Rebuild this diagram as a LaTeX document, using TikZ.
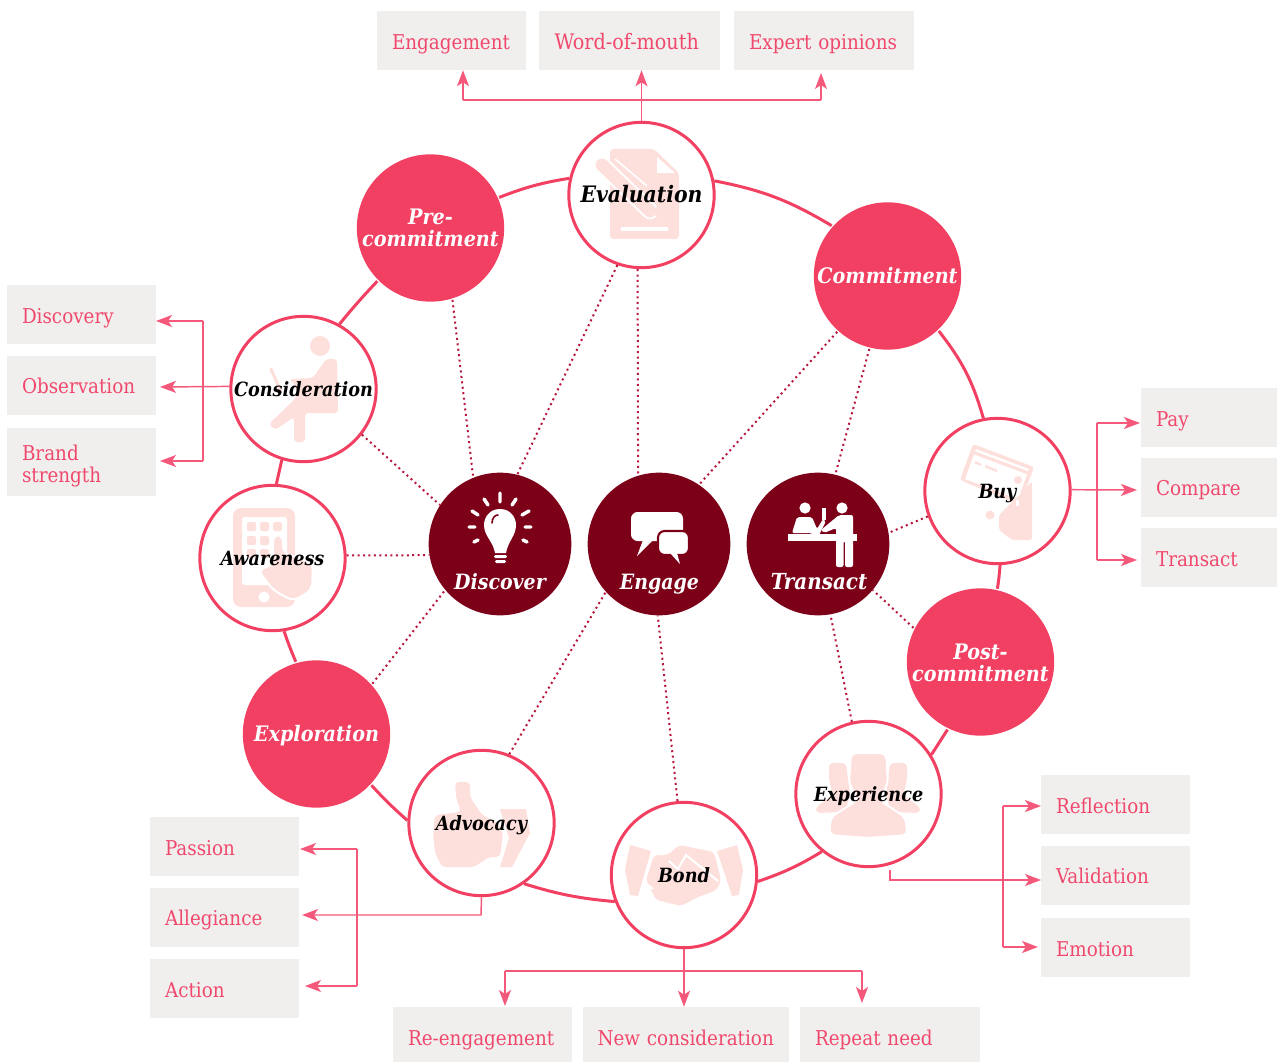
\documentclass[tikz,border=0pt]{standalone}
\usepackage{fontspec}
\setmainfont{DejaVu Serif Condensed}
\usepackage{xcolor}
\usetikzlibrary{positioning,arrows.meta}
\definecolor{ringred}{HTML}{F24062}
\definecolor{forkred}{HTML}{F4587A}
\definecolor{tagred}{HTML}{F0486C}
\definecolor{corered}{HTML}{7D0019}
\definecolor{dotred}{HTML}{B8163C}
\definecolor{tagbg}{HTML}{F1EFEE}
\definecolor{iconpink}{HTML}{FDDFDC}

\begin{document}
\begin{tikzpicture}[x=0.75pt,y=-0.75pt]
    \tikzstyle{stage} = [draw=ringred,line width=2.25pt,circle,fill=none,minimum size=109pt,inner sep=0pt,text=black,font=\fontsize{14.7}{16.5}\selectfont\bfseries\itshape,align=center,text height=11.5pt,text depth=0pt]
    \tikzstyle{stagefull} = [stage,draw=none,fill=ringred,minimum size=110.5pt,text=white,font=\fontsize{16}{16.5}\selectfont\bfseries\itshape]
    \tikzstyle{twolines} = [text height=28.5pt,text depth=0pt]
    \tikzstyle{core} = [circle,fill=corered,minimum size=107pt,inner sep=0pt]
    \tikzstyle{corelabel} = [text=white,inner sep=0pt,anchor=base,font=\fontsize{15.8}{16.5}\selectfont\bfseries\itshape]
    \tikzstyle{tag} = [fill=tagbg,text=tagred,align=left,minimum height=44.25pt,inner xsep=11.25pt,inner ysep=0pt,font=\fontsize{15.3}{16.5}\selectfont,text height=13pt,text depth=0pt]
    \tikzstyle{lowtag} = [tag,minimum height=41.25pt,text height=15.75pt]
    \tikzstyle{ringline} = [draw=ringred,line width=2.25pt]
    \tikzstyle{dotline} = [draw=dotred,line width=1.5pt,dotted,dash pattern=on 1.5pt off 2.6pt]
    \tikzstyle{forkline} = [draw=forkred,line width=1.1pt]
    \tikzstyle{forkarrow} = [forkline,-{Stealth[length=12pt,width=9pt,inset=3pt]}]
    \tikzstyle{icon} = [fill=iconpink,draw=none]
    \tikzstyle{iconcut} = [fill=white,draw=none]

    \useasboundingbox (0,0) rectangle (1277,1062);

    % the three dark circles come first, their pictures go on top
    \node[core] (discover) at (500,544) {};
    \node[core] (engage) at (659,544) {};
    \node[core] (transact) at (818,544) {};

    % bulb
    \fill[white] (500,509) .. controls (489,509) and (484,518) .. (484,525) .. controls (484,536) and (493,541) .. (495,553) -- (506,553) .. controls (508,541) and (516,536) .. (516,525) .. controls (516,518) and (511,509) .. (500,509) -- cycle;
    \draw[corered,line width=1.2pt,line cap=round] (492,523) .. controls (492,518) and (495,515) .. (498,515);
    \fill[white,rounded corners=1pt] (494,555) rectangle (507,558);
    \fill[white,rounded corners=1pt] (495,560) rectangle (506,563);
    \draw[white,line width=2.6pt,line cap=round] (500,493) -- (500,502) (484,499) -- (488,505) (516,499) -- (512,505) (472,511) -- (478,515) (529,511) -- (522,515) (469,527) -- (475,527) (531,527) -- (525,527) (474,542) -- (478,540) (527,542) -- (523,540);
    % bubbles
    \fill[white,rounded corners=5pt] (631,512) rectangle (683,541);
    \fill[white] (643,540) -- (637,556) -- (653,540) -- cycle;
    \fill[white,rounded corners=5pt,draw=corered,line width=1.6pt] (658,531) rectangle (689,555);
    \fill[white] (670,553) -- (680,564) -- (677,553) -- cycle;
    % counter
    \fill[white] (805,508) circle (5.6);
    \fill[white,rounded corners=1.5pt] (792,533) -- (797,517) -- (812,517) -- (817,529) -- (823,519) -- (826,521) -- (818,537) -- (811,533) -- cycle;
    \fill[white] (822,508) rectangle (826,520);
    \fill[white] (788,534) rectangle (857,541);
    \fill[white] (842,508) circle (5.6);
    \fill[white,rounded corners=1.5pt] (839,515) -- (853,515) -- (853,567) -- (845,567) -- (845,541) -- (843.5,541) -- (843.5,567) -- (836,567) -- (836,528) -- (824,533) -- (821,530) -- cycle;

    \node[corelabel] (discoverlabel) at (500,589) {Discover};
    \node[corelabel] (engagelabel) at (659.5,589) {Engage};
    \node[corelabel,font=\fontsize{16.6}{16.5}\selectfont\bfseries\itshape] (transactlabel) at (819,589) {Transact};

    % pale pictures of the white circles
    % evaluation
    \fill[icon,rounded corners=2.5pt] (610,149) -- (654,149) -- (679,173) -- (679,239) -- (610,239) -- cycle;
    \fill[iconcut] (657,157) -- (675,173) -- (657,173) -- cycle;
    \draw[white,line width=12.5pt,line cap=round] (602,165) -- (650,211);
    \draw[iconpink,line width=9.5pt,line cap=round] (602,165) -- (650,211);
    \draw[white,line width=1.2pt] (615,159) -- (647,186);
    \fill[iconpink] (650,213) -- (666,220) -- (660,204) -- cycle;
    \draw[white,line width=2.4pt,line cap=round] (622,229) -- (667,229);
    % consideration
    \fill[icon] (320,346) circle (10);
    \fill[icon,rounded corners=2.5pt] (326,359) -- (337,359) -- (338,413) -- (305,413) -- (305,442) -- (294,442) -- (294,417) -- (275,430) -- (269,424) -- (296,398) -- (296,386) -- (289,379) -- (313,378) -- cycle;
    \draw[iconpink,line width=2.4pt,line cap=round] (271,369) -- (281,392);
    % awareness
    \fill[icon,rounded corners=6pt] (233,508) rectangle (295,607);
    \fill[iconcut,rounded corners=2pt] (242,517) rectangle (287,585);
    \foreach \bx in {247,260,273} {\foreach \by in {522,536,549} {\fill[icon,rounded corners=1.5pt] (\bx,\by) rectangle +(9,9);}}
    \fill[iconcut] (264,597) circle (5.5);
    \fill[icon,draw=white,line width=1.5pt,rounded corners=5pt] (273,590) -- (293,601) -- (312,590) -- (313,563) -- (283,553) -- (283,535) -- (273,535) -- (273,565) -- (258,570) -- cycle;
    % advocacy
    \fill[icon,rounded corners=3pt] (455,782) -- (470,782) -- (470,797) -- (482,815) -- (498,823) -- (503,833) -- (500,857) -- (489,857) -- (474,867) -- (442,867) -- (435,853) -- (433,833) -- (435,815) -- (461,812) -- (456,797) -- cycle;
    \fill[icon] (500,809) -- (526,809) -- (530,833) -- (512,867) -- (500,867) -- (509,838) -- cycle;
    % bond
    \fill[icon] (630,845) -- (651,851) -- (638,896) -- (630,895) -- (625,870) -- cycle;
    \fill[icon] (737,845) -- (717,851) -- (732,896) -- (739,895) -- (743,870) -- cycle;
    \fill[icon,rounded corners=3pt] (654,855) -- (668,855) -- (679,845) -- (714,852) -- (721,880) -- (717,890) -- (698,897) -- (681,906) -- (656,900) -- (646,880) -- cycle;
    \draw[white,line width=1.6pt] (669,861) -- (678,869) -- (686,855) -- (718,881) (645,883) -- (653,889);
    % experience
    \fill[icon,rounded corners=3pt] (829,763) -- (846,763) -- (850,795) -- (845,812) -- (816,813) -- (816,807) -- (833,795) -- (829,780) -- cycle;
    \fill[icon,rounded corners=3pt] (907,763) -- (890,763) -- (886,795) -- (891,812) -- (920,813) -- (920,807) -- (903,795) -- (907,780) -- cycle;
    \fill[icon,draw=white,line width=1.5pt,rounded corners=4pt] (851,753) -- (886,753) -- (888,783) -- (879,800) -- (905,817) -- (908,835) -- (868,838) -- (829,835) -- (831,817) -- (858,800) -- (849,783) -- cycle;
    % buy
    \fill[icon,rounded corners=2pt] (973,444) -- (1034,467) -- (1020,505) -- (960,480) -- cycle;
    \fill[iconcut] (976,449) -- (1029,469) -- (1018,499) -- (965,479) -- cycle;
    \fill[icon] (974,451) -- (1030,472) -- (1029,475) -- (973,454) -- cycle;
    \draw[iconpink,line width=1.8pt] (975,462) -- (981,465) (985,466) -- (997,471);
    \fill[icon] (1018,480) circle (4);
    \fill[icon,rounded corners=2pt] (1032,481) -- (1032,540) -- (1012,540) -- (999,530) -- (999,515) -- (1014,500) -- (1020,495) -- cycle;
    \fill[iconcut] (1016,500) rectangle (1019,506);
    \fill[icon] (990,515) circle (4.5);

    % outer circles
    \node[stage,font=\fontsize{17}{16.5}\selectfont\bfseries\itshape] (evaluation) at (641.5,195) {Evaluation};
    \node[stagefull,twolines] (precommitment) at (430.5,228) {Pre-\\commitment};
    \node[stagefull] (commitment) at (887.5,276) {Commitment};
    \node[stage] (consideration) at (303.5,389) {Consideration};
    \node[stage] (awareness) at (272.5,558) {Awareness};
    \node[stagefull] (exploration) at (316.5,734) {Exploration};
    \node[stage] (advocacy) at (481.5,823) {Advocacy};
    \node[stage] (bond) at (684,875) {Bond};
    \node[stage] (experience) at (868.5,794) {Experience};
    \node[stagefull,twolines] (postcommitment) at (980.5,662) {Post-\\commitment};
    \node[stage] (buy) at (997.5,491) {Buy};

    % ring
    \draw[ringline] (precommitment.24) to[bend left=6] (evaluation.167);
    \draw[ringline] (evaluation.11) to[bend left=10] (commitment.138);
    \draw[ringline] (commitment.313) to[bend left=11] (buy.101);
    \draw[ringline] (buy.272) to[bend left=2] (postcommitment.77);
    \draw[ringline] (postcommitment.244) -- (experience.32);
    \draw[ringline] (experience.231) to[bend left=6] (bond.355);
    \draw[ringline] (bond.201) to[bend left=6] (advocacy.305);
    \draw[ringline] (advocacy.178) to[bend left=3] (exploration.317);
    \draw[ringline] (exploration.106) to[bend left=2] (awareness.279);
    \draw[ringline] (awareness.87) -- (consideration.253);
    \draw[ringline] (consideration.61) to[bend left=2] (precommitment.225);

    % spokes
    \draw[dotline] (evaluation.251) -- (discover.76);
    \draw[dotline] (evaluation.267) -- (engage.107);
    \draw[dotline] (precommitment.287) -- (discover.112);
    \draw[dotline] (consideration.322) -- (discover.147);
    \draw[dotline] (awareness.2) -- (discover.189);
    \draw[dotline] (exploration.42) -- (discover.220);
    \draw[dotline] (advocacy.68) -- (engage.222);
    \draw[dotline] (bond.95) -- (engage.269);
    \draw[dotline] (commitment.228) -- (engage.56);
    \draw[dotline] (commitment.256) -- (transact.76);
    \draw[dotline] (buy.200) -- (transact.9);
    \draw[dotline] (postcommitment.153) -- (transact.320);
    \draw[dotline] (experience.103) -- (transact.280);

    % tags on top
    \node[tag,text width=89.25pt] (engagementtag) at (451.5,40.5) {Engagement};
    \node[tag,text width=111.75pt,inner xsep=12pt,font=\fontsize{16}{16.5}\selectfont] (wordtag) [right = 9pt of engagementtag] {Word-of-mouth};
    \node[tag,text width=112.5pt] (experttag) [right = 10.5pt of wordtag] {Expert opinions};
    % tags on the left
    \node[tag,text width=89.25pt] (discoverytag) at (81.5,314.5) {Discovery};
    \node[tag,text width=89.25pt] (observationtag) [below = 8.25pt of discoverytag] {Observation};
    \node[tag,text width=89.25pt,minimum height=51pt,text height=12pt,text depth=15pt] (brandtag) [below = 9.75pt of observationtag] {Brand\\strength};
    % tags on the right
    \node[tag,text width=79.5pt] (paytag) at (1209,417.5) {Pay};
    \node[tag,text width=79.5pt] (comparetag) [below = 7.5pt of paytag] {Compare};
    \node[tag,text width=79.5pt] (transacttag) [below = 8.25pt of comparetag] {Transact};
    \node[tag,text width=89.25pt] (reflectiontag) at (1115.5,804.5) {Reflection};
    \node[tag,text width=89.25pt] (validationtag) [below = 8.25pt of reflectiontag] {Validation};
    \node[tag,text width=89.25pt] (emotiontag) [below = 9.75pt of validationtag] {Emotion};
    \node[tag,text width=89.25pt] (passiontag) at (224.5,846.5) {Passion};
    \node[tag,text width=89.25pt] (allegiancetag) [below = 8.25pt of passiontag] {Allegiance};
    \node[tag,text width=89.25pt] (actiontag) [below = 9pt of allegiancetag] {Action};
    % tags at the bottom
    \node[lowtag,text width=111.75pt] (reengagementtag) at (482.5,1034.5) {Re-engagement};
    \node[lowtag,text width=132pt] (newtag) [right = 7.5pt of reengagementtag] {\mbox{New consideration}};
    \node[lowtag,text width=112.5pt] (repeattag) [right = 8.25pt of newtag] {Repeat need};

    % forks
    \coordinate (topleft) at (463,100);
    \coordinate (topright) at (821,100);
    \coordinate (topend) at (821,73);
    \draw[forkarrow] (evaluation.north) -- (evaluation.north |- wordtag.south);
    \draw[forkline] (topleft) -- (topright);
    \draw[forkarrow] (topleft) -- (topleft |- engagementtag.south);
    \draw[forkarrow] (topright) -- (topend);

    \coordinate (leftup) at (203,321);
    \coordinate (leftdown) at (203,461);
    \coordinate (leftmid) at (160,387);
    \coordinate (leftupend) at (156,321);
    \coordinate (leftdownend) at (160,461);
    \draw[forkarrow] (consideration.178) -- (leftmid);
    \draw[forkline] (leftup) -- (leftdown);
    \draw[forkarrow] (leftup) -- (leftupend);
    \draw[forkarrow] (leftdown) -- (leftdownend);

    \coordinate (rightup) at (1097,423);
    \coordinate (rightdown) at (1097,560);
    \coordinate (rightmid) at (1137,490);
    \coordinate (rightupend) at (1140,423);
    \coordinate (rightdownend) at (1137,560);
    \draw[forkarrow] (buy.1) -- (rightmid);
    \draw[forkline] (rightup) -- (rightdown);
    \draw[forkarrow] (rightup) -- (rightupend);
    \draw[forkarrow] (rightdown) -- (rightdownend);

    \coordinate (expup) at (1003,806);
    \coordinate (expdown) at (1003,947);
    \coordinate (expstart) at (890,870);
    \coordinate (expcorner) at (890,880);
    \coordinate (expmid) at (1041,880);
    \coordinate (expupend) at (1041,806);
    \coordinate (expdownend) at (1038,947);
    \draw[forkarrow] (expstart) -- (expcorner) -- (expmid);
    \draw[forkline] (expup) -- (expdown);
    \draw[forkarrow] (expup) -- (expupend);
    \draw[forkarrow] (expdown) -- (expdownend);

    \coordinate (advup) at (357,849);
    \coordinate (advdown) at (357,986);
    \coordinate (advcorner) at (481,915);
    \coordinate (advmid) at (302,915);
    \coordinate (advupend) at (300,849);
    \coordinate (advdownend) at (305,986);
    \draw[forkarrow] (advocacy.south) -- (advcorner) -- (advmid);
    \draw[forkline] (advup) -- (advdown);
    \draw[forkarrow] (advup) -- (advupend);
    \draw[forkarrow] (advdown) -- (advdownend);

    \coordinate (bondleft) at (505,971);
    \coordinate (bondright) at (862,971);
    \coordinate (bondleftend) at (505,1006);
    \coordinate (bondrightend) at (862,1003);
    \draw[forkarrow] (bond.south) -- (bond.south |- newtag.north);
    \draw[forkline] (bondleft) -- (bondright);
    \draw[forkarrow] (bondleft) -- (bondleftend);
    \draw[forkarrow] (bondright) -- (bondrightend);
\end{tikzpicture}
\end{document}
